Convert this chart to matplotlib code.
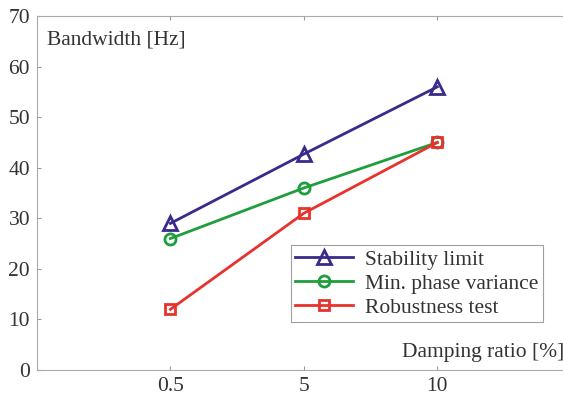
import matplotlib.pyplot as plt

damping = ['0.5', '5', '10']
stability = [29, 42.7, 56]
min_phase = [26, 36, 45]
robust = [12, 31, 45]

plt.rcParams['font.family'] = 'Liberation Serif'
fig = plt.figure(figsize=(5.63, 3.99), dpi=100)
ax = fig.add_axes([0.0657, 0.0727, 0.948, 0.887])

x = [1, 2, 3]
ax.plot(x, stability, color='#3b2a8c', marker='^', markersize=10, markerfacecolor='none',
        markeredgewidth=2, linewidth=2, label='Stability limit')
ax.plot(x, min_phase, color='#1e9e3c', marker='o', markersize=8, markerfacecolor='none',
        markeredgewidth=2, linewidth=2, label='Min. phase variance')
ax.plot(x, robust, color='#e8322c', marker='s', markersize=7.5, markerfacecolor='none',
        markeredgewidth=2, linewidth=2, label='Robustness test')

ax.set_xlim(0, 4)
ax.set_ylim(0, 70)
ax.set_xticks(x)
ax.set_xticklabels(damping)
ax.set_yticks(range(0, 71, 10))
ax.tick_params(direction='in', length=3, color='#999999', labelsize=15.5, labelcolor='#333333',
               top=True, right=True, pad=5)
for s in ax.spines.values():
    s.set_color('#aaaaaa')

ax.text(0.018, 0.96, 'Bandwidth [Hz]', transform=ax.transAxes, fontsize=15.5,
        color='#333333', va='top', ha='left')
ax.text(3.95, 1.6, 'Damping ratio [%]', fontsize=15.5, color='#333333', ha='right', va='bottom')

leg = ax.legend(loc='upper left', bbox_to_anchor=(0.476, 0.352), fontsize=15.5,
                frameon=True, fancybox=False, borderpad=0.2, labelspacing=0.18,
                handlelength=2.7, handletextpad=0.55, borderaxespad=0)
leg.get_frame().set_edgecolor('#888888')
leg.get_frame().set_linewidth(0.8)
for t in leg.get_texts():
    t.set_color('#333333')

plt.savefig('out.png', dpi=100)
